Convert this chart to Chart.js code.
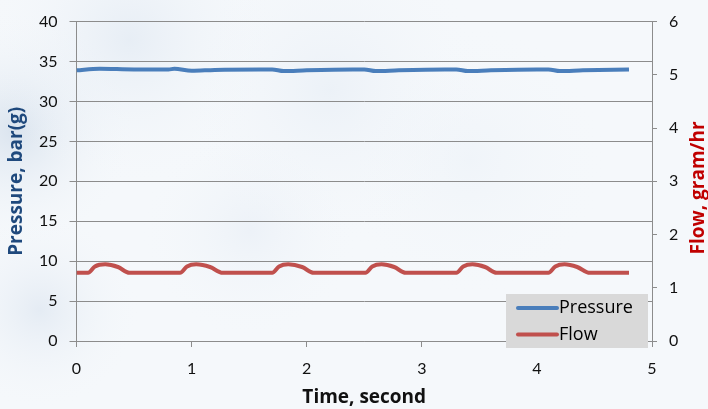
<!DOCTYPE html>
<html>
<head>
<meta charset="utf-8">
<script src="https://cdn.jsdelivr.net/npm/chart.js@4/dist/chart.umd.min.js"></script>
<style>
html,body{margin:0;padding:0;background:#fff;}
#wrap{width:708px;height:409px;position:relative;}
</style>
</head>
<body>
<div id="wrap"><canvas id="c" width="708" height="409"></canvas></div>
<script>
// ---- data ----
const pressureTime   = [0, 0.2, 0.5, 0.8, 0.85, 1.0, 1.2, 1.6, 1.7, 1.8, 2.0, 2.4, 2.5, 2.6, 2.8, 3.2, 3.3, 3.4, 3.6, 4.0, 4.1, 4.2, 4.4, 4.8];
const pressureValues = [33.9, 34.1, 34.0, 34.0, 34.1, 33.85, 33.95, 34.0, 34.0, 33.8, 33.9, 34.0, 34.0, 33.8, 33.9, 34.0, 34.0, 33.8, 33.9, 34.0, 34.0, 33.8, 33.9, 34.0];
const flowTime   = [0, 0.1, 0.16, 0.25, 0.36, 0.46, 0.9, 0.96, 1.04, 1.16, 1.27, 1.7, 1.76, 1.84, 1.96, 2.06, 2.51, 2.57, 2.65, 2.76, 2.86, 3.3, 3.36, 3.44, 3.55, 3.65, 4.1, 4.16, 4.24, 4.35, 4.46, 4.8];
const flowValues = [1.28, 1.28, 1.40, 1.44, 1.39, 1.28, 1.28, 1.40, 1.44, 1.39, 1.28, 1.28, 1.40, 1.44, 1.39, 1.28, 1.28, 1.40, 1.44, 1.39, 1.28, 1.28, 1.40, 1.44, 1.39, 1.28, 1.28, 1.40, 1.44, 1.39, 1.28, 1.28];
const xTicks = [0, 1, 2, 3, 4, 5];
const seriesNames = ['Pressure', 'Flow'];
const axisTitles = {x: 'Time, second', yLeft: 'Pressure, bar(g)', yRight: 'Flow, gram/hr'};

const FONT = 'Lato, "Open Sans", sans-serif';
const TFONT = '"Open Sans", Lato, sans-serif';
const GRID = '#8c8c8c';

const bgPlugin = {
  id: 'bg',
  beforeDraw(chart) {
    const ctx = chart.ctx, w = chart.width, h = chart.height;
    ctx.save();
    ctx.fillStyle = '#f5f8fb';
    ctx.fillRect(0, 0, w, h);
    const blobs = [
      [15, 130, 120, 'rgba(200,214,230,0.6)'],
      [130, 40, 150, 'rgba(214,225,238,0.45)'],
      [330, 90, 160, 'rgba(222,231,242,0.4)'],
      [40, 310, 100, 'rgba(208,220,235,0.45)'],
      [250, 230, 110, 'rgba(224,232,243,0.4)'],
      [470, 160, 140, 'rgba(228,236,245,0.3)']
    ];
    for (const [x, y, r, c] of blobs) {
      const g = ctx.createRadialGradient(x, y, 0, x, y, r);
      g.addColorStop(0, c);
      g.addColorStop(1, 'rgba(245,248,251,0)');
      ctx.fillStyle = g;
      ctx.fillRect(0, 0, w, h);
    }
    ctx.restore();
  }
};

const decoPlugin = {
  id: 'deco',
  afterDraw(chart) {
    const ctx = chart.ctx;
    const ca = chart.chartArea;
    const xs = chart.scales.x;
    ctx.save();
    // legend box
    const lx = 506, ly = 294, lw = 142, lh = 54;
    ctx.fillStyle = '#d9d9d9';
    ctx.fillRect(lx, ly, lw, lh);
    ctx.font = '18px ' + TFONT;
    ctx.textBaseline = 'middle';
    ctx.textAlign = 'left';
    ctx.lineCap = 'round';
    ctx.lineWidth = 4;
    chart.data.datasets.forEach((d, i) => {
      const yy = ly + 14 + i * 26.5;
      ctx.strokeStyle = d.borderColor;
      ctx.beginPath(); ctx.moveTo(518, yy); ctx.lineTo(557, yy); ctx.stroke();
      ctx.fillStyle = '#000';
      ctx.fillText(d.label, 559, yy);
    });
    // axis titles
    ctx.font = 'bold 19px ' + TFONT;
    ctx.textAlign = 'center';
    ctx.fillStyle = '#111';
    ctx.fillText(axisTitles.x, (xs.left + xs.right) / 2, 398);
    ctx.save();
    ctx.translate(17, (ca.top + ca.bottom) / 2);
    ctx.rotate(-Math.PI / 2);
    ctx.fillStyle = '#1f497d';
    ctx.fillText(axisTitles.yLeft, 0, 0);
    ctx.restore();
    ctx.save();
    ctx.translate(699, 188);
    ctx.rotate(-Math.PI / 2);
    ctx.fillStyle = '#c00000';
    ctx.fillText(axisTitles.yRight, 0, 0);
    ctx.restore();
    ctx.restore();
  }
};

new Chart(document.getElementById('c'), {
  type: 'line',
  data: {
    datasets: [
      {
        label: seriesNames[0],
        data: pressureTime.map((t, i) => ({x: t, y: pressureValues[i]})),
        borderColor: '#4a7ebb',
        borderWidth: 4,
        pointRadius: 0,
        cubicInterpolationMode: 'monotone',
        yAxisID: 'y'
      },
      {
        label: seriesNames[1],
        data: flowTime.map((t, i) => ({x: t, y: flowValues[i]})),
        borderColor: '#c0504d',
        borderWidth: 4,
        pointRadius: 0,
        cubicInterpolationMode: 'monotone',
        yAxisID: 'y1'
      }
    ]
  },
  options: {
    responsive: false,
    animation: false,
    layout: {padding: {top: 20, left: 0, right: 0, bottom: 0}},
    plugins: {legend: {display: false}, tooltip: {enabled: false}},
    scales: {
      x: {
        type: 'linear', min: 0, max: 5,
        afterBuildTicks(s) { s.ticks = xTicks.map(v => ({value: v})); },
        afterFit(s) { s.height = 68; },
        grid: {drawOnChartArea: false, drawTicks: true, tickLength: 6, color: GRID},
        border: {display: true, color: GRID},
        ticks: {color: '#111', font: {family: FONT, size: 16}, padding: 12, maxRotation: 0}
      },
      y: {
        position: 'left', min: 0, max: 40,
        afterFit(s) { s.width = 76.5; },
        grid: {color: GRID, tickLength: 7},
        border: {display: true, color: GRID},
        ticks: {stepSize: 5, color: '#111', font: {family: FONT, size: 16}, padding: 12}
      },
      y1: {
        position: 'right', min: 0, max: 6,
        afterFit(s) { s.width = 56; },
        grid: {drawOnChartArea: false, tickLength: 5, color: GRID},
        border: {display: true, color: GRID},
        ticks: {stepSize: 1, color: '#111', font: {family: FONT, size: 16}, padding: 12}
      }
    }
  },
  plugins: [bgPlugin, decoPlugin]
});
</script>
</body>
</html>
